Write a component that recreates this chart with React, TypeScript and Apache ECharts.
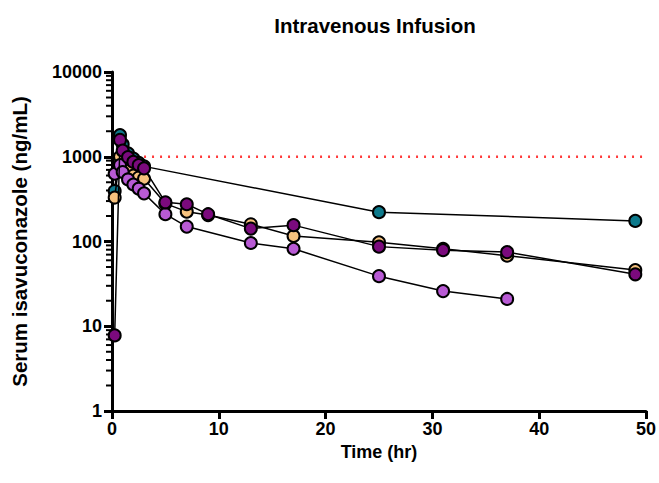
import React, { useEffect, useRef } from "react";
import * as echarts from "echarts";

const tealTimes = [0.25, 0.75, 1, 1.5, 2, 2.5, 3, 25, 49];
const tealValues = [395, 1800, 1400, 1100, 950, 850, 770, 222, 175];

const peachTimes = [0.25, 0.75, 1, 1.5, 2, 2.5, 3, 5, 7, 9, 13, 17, 25, 31, 37, 49];
const peachValues = [330, 1000, 800, 680, 600, 570, 550, 280, 225, 205, 160, 116, 98, 82, 68, 46];

const lightTimes = [0.25, 0.75, 1, 1.5, 2, 2.5, 3, 5, 7, 13, 17, 25, 31, 37];
const lightValues = [630, 800, 660, 540, 470, 420, 370, 210, 150, 96, 82, 39, 26, 21];

const darkTimes = [0.25, 0.75, 1, 1.5, 2, 2.5, 3, 5, 7, 9, 13, 17, 25, 31, 37, 49];
const darkValues = [7.8, 1580, 1180, 990, 870, 800, 730, 290, 275, 210, 142, 156, 87, 79, 75, 41];

const thresholdTimes = [3, 50];
const thresholdValues = [1000, 1000];

const minorTickValues = [2, 3, 4, 5, 6, 7, 8, 9, 20, 30, 40, 50, 60, 70, 80, 90, 200, 300, 400, 500, 600, 700, 800, 900, 2000, 3000, 4000, 5000, 6000, 7000, 8000, 9000];

const xTicks = { min: 0, max: 50, interval: 10 };
const yTicks = { min: 1, max: 10000 };

const FONT = "'Liberation Sans', Arial, sans-serif";

function pairs(t: number[], v: number[]) {
  return t.map((x, i) => [x, v[i]]);
}

function patientSeries(name: string, t: number[], v: number[], color: string, z: number) {
  return {
    name,
    type: "line",
    data: pairs(t, v),
    symbol: "circle",
    symbolSize: 12,
    z,
    lineStyle: { color: "#000", width: 1.5 },
    itemStyle: { color, borderColor: "#000", borderWidth: 2 },
    emphasis: { disabled: true },
  };
}

export default function App() {
  const ref = useRef<HTMLDivElement>(null);
  useEffect(() => {
    document.body.style.margin = "0";
    if (!ref.current) return;
    const chart = echarts.init(ref.current, null, { renderer: "svg" });
    chart.setOption({
      animation: false,
      backgroundColor: "#fff",
      title: {
        text: "Intravenous Infusion",
        left: 370,
        top: 10,
        textAlign: "center",
        textStyle: { fontFamily: FONT, fontWeight: "bold", fontSize: 20.5, color: "#000" },
      },
      grid: { left: 112, right: 12, top: 72, bottom: 72, containLabel: false },
      xAxis: {
        type: "value",
        min: xTicks.min,
        max: xTicks.max,
        interval: xTicks.interval,
        name: "Time (hr)",
        nameLocation: "middle",
        nameGap: 31,
        nameTextStyle: { fontFamily: FONT, fontWeight: "bold", fontSize: 18, color: "#000" },
        axisLine: { show: true, onZero: false, lineStyle: { color: "#000", width: 3 } },
        axisTick: { show: true, inside: false, length: 8, lineStyle: { color: "#000", width: 3 } },
        axisLabel: { fontFamily: FONT, fontWeight: "bold", fontSize: 18, color: "#000", margin: 9 },
        splitLine: { show: false },
      },
      yAxis: {
        type: "log",
        logBase: 10,
        min: yTicks.min,
        max: yTicks.max,
        name: "Serum isavuconazole (ng/mL)",
        nameLocation: "middle",
        nameGap: 82,
        nameTextStyle: { fontFamily: FONT, fontWeight: "bold", fontSize: 20.5, color: "#000" },
        axisLine: { show: true, lineStyle: { color: "#000", width: 3 } },
        axisTick: { show: true, inside: false, length: 8, lineStyle: { color: "#000", width: 3 } },
        axisLabel: {
          fontFamily: FONT,
          fontWeight: "bold",
          fontSize: 18,
          color: "#000",
          margin: 10,
          formatter: (v: number) => String(Math.round(v)),
        },
        splitLine: { show: false },
      },
      series: [
        {
          name: "minorTicks",
          type: "custom",
          silent: true,
          clip: false,
          z: 1,
          data: minorTickValues.map((v) => [0, v]),
          renderItem: (params: any, api: any) => {
            const p = api.coord([0, api.value(1)]);
            return {
              type: "line",
              shape: { x1: p[0] - 6, y1: p[1], x2: p[0], y2: p[1] },
              style: { stroke: "#000", lineWidth: 2 },
            };
          },
        },
        {
          name: "threshold",
          type: "line",
          data: pairs(thresholdTimes, thresholdValues),
          symbol: "none",
          silent: true,
          z: 2,
          lineStyle: { color: "#ff3b3b", width: 2.5, type: [2, 6] },
        },
        patientSeries("Teal", tealTimes, tealValues, "#0d7a8c", 3),
        patientSeries("Peach", peachTimes, peachValues, "#f6c27e", 4),
        patientSeries("Light purple", lightTimes, lightValues, "#b85ad4", 5),
        patientSeries("Dark purple", darkTimes, darkValues, "#7b0a7d", 6),
      ],
    });
    return () => chart.dispose();
  }, []);
  return <div ref={ref} style={{ width: 659, height: 483 }} />;
}
